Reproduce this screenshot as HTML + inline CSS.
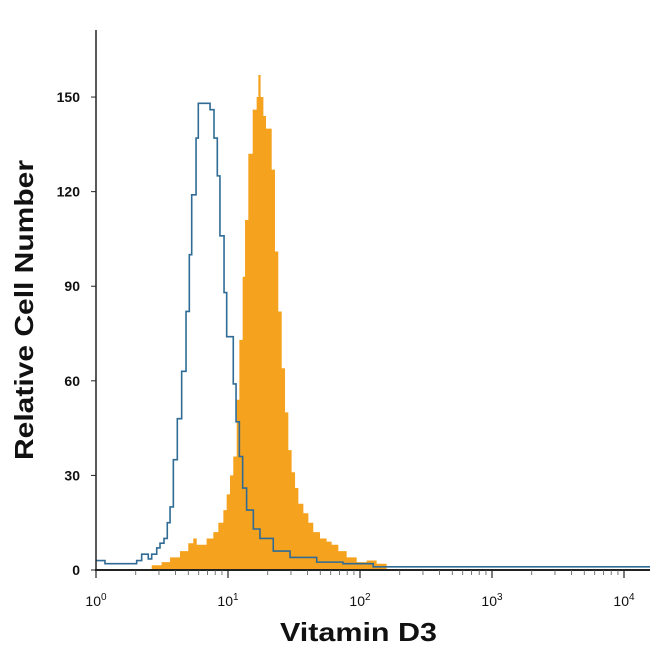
<!DOCTYPE html>
<html><head><meta charset="utf-8"><style>
body{margin:0;background:#fff}
svg{display:block}
text{font-family:"Liberation Sans",sans-serif;fill:#111}
</style></head><body>
<svg id="chart" width="650" height="650">
<g id="plot"></g>
<g id="axes"></g>
<text x="280" y="641" font-size="26" font-weight="bold" textLength="157" lengthAdjust="spacingAndGlyphs">Vitamin D3</text>
<text transform="translate(33,460) rotate(-90)" font-size="26" font-weight="bold" textLength="300" lengthAdjust="spacingAndGlyphs">Relative Cell Number</text>
</svg>
<script>
const blueEdges=[0,0.068,0.308,0.346,0.396,0.422,0.460,0.485,0.515,0.540,0.561,0.586,0.616,0.649,0.682,0.707,0.725,0.758,0.775,0.864,0.894,0.919,0.939,0.970,0.990,1.040,1.061,1.086,1.111,1.141,1.192,1.242,1.343,1.470,1.672,1.871,2.1,4.197];
const blueCounts=[3,2,3,5,3.5,5,7,8.5,10,15,20,35,48,63,82,100,119,137,148,146,137,125,106,88,74,59,47,36,26,19,13,10,6,4,2.5,2,1];
const orangeEdges=[0.422,0.497,0.561,0.636,0.699,0.737,0.763,0.838,0.889,0.927,0.965,0.990,1.015,1.040,1.066,1.086,1.111,1.129,1.154,1.187,1.217,1.230,1.247,1.268,1.288,1.331,1.356,1.381,1.407,1.432,1.457,1.482,1.508,1.533,1.571,1.609,1.646,1.697,1.747,1.785,1.836,1.899,1.975,2.051,2.126,2.202];
const orangeCounts=[1.5,2.5,4,6,8.5,10,8,10,12,15,19,24,30,36,54,73,93,111,132,146,150,157,150,144,140,127,101,82,64,50,38,31,26,21,18,15,12,10,9,8,6,4,2.5,3,2];
const yTicks=[0,30,60,90,120,150];
const xDecades=[0,1,2,3,4];
const X0=96,PX=132,Y0=570,PY=3.153;
const sx=l=>X0+l*PX, sy=c=>Y0-c*PY;
const NS="http://www.w3.org/2000/svg";
const plot=document.getElementById('plot'), axes=document.getElementById('axes');
function mk(t,a,p){const e=document.createElementNS(NS,t);for(const k in a)e.setAttribute(k,a[k]);p.appendChild(e);return e;}
function stepPath(E,C,closed){let d=`M${sx(E[0])},${closed?Y0:sy(C[0])}`;for(let i=0;i<C.length;i++){d+=` L${sx(E[i])},${sy(C[i])} L${sx(E[i+1])},${sy(C[i])}`;}if(closed)d+=` L${sx(E[E.length-1])},${Y0} Z`;return d;}
const o=mk('path',{d:stepPath(orangeEdges,orangeCounts,true),fill:'#f5a21f',stroke:'none'},plot);


const b=mk('path',{d:stepPath(blueEdges,blueCounts,false),fill:'none',stroke:'#2f6b95','stroke-width':1.6},plot);


const ya=mk('line',{x1:X0,y1:30,x2:X0,y2:Y0+1,stroke:'#222','stroke-width':1.5},axes);


const xa=mk('line',{x1:X0-1,y1:Y0,x2:650,y2:Y0,stroke:'#222','stroke-width':2},axes);


yTicks.forEach(v=>{
 mk('line',{x1:X0-5,y1:sy(v),x2:X0,y2:sy(v),stroke:'#222','stroke-width':1},axes);
 const t=mk('text',{x:80,y:sy(v)+5,'text-anchor':'end','font-size':14,'font-weight':'bold'},axes);
 t.textContent=v;
 
 
});
xDecades.forEach(dcd=>{
 mk('line',{x1:sx(dcd),y1:Y0,x2:sx(dcd),y2:Y0+8,stroke:'#222','stroke-width':1.2},axes);
 for(let m=2;m<10;m++){const l=dcd+Math.log10(m);if(sx(l)<650)mk('line',{x1:sx(l),y1:Y0,x2:sx(l),y2:Y0+5,stroke:'#555','stroke-width':0.8},axes);}
 const t=mk('text',{x:sx(dcd),y:606,'text-anchor':'middle','font-size':14},axes);
 t.innerHTML=`10<tspan dy="-6" font-size="10">${dcd}</tspan>`;
 
 
});
</script>
</body></html>
